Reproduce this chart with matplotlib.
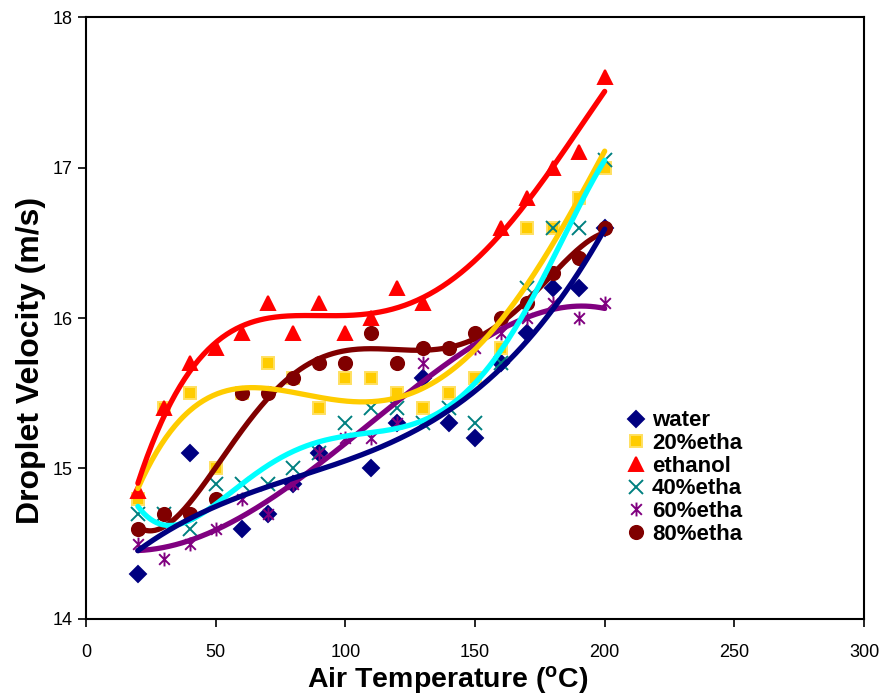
import matplotlib.pyplot as plt
import numpy as np
from matplotlib.path import Path

plt.rcParams['font.family'] = ['Liberation Sans', 'DejaVu Sans']
plt.rcParams['mathtext.fontset'] = 'custom'
plt.rcParams['mathtext.rm'] = 'Liberation Sans'
plt.rcParams['mathtext.bf'] = 'Liberation Sans:bold'

nan = np.nan

# ============================
# Data
# ============================
temp = [20, 30, 40, 50, 60, 70, 80, 90, 100, 110,
        120, 130, 140, 150, 160, 170, 180, 190, 200]

water = [14.3, nan, 15.1, nan, 14.6, 14.7, 14.9, 15.1, nan, 15.0,
         15.3, 15.6, 15.3, 15.2, 15.7, 15.9, 16.2, 16.2, 16.6]
etha20 = [14.8, 15.4, 15.5, 15.0, 15.5, 15.7, 15.6, 15.4, 15.6, 15.6,
          15.5, 15.4, 15.5, 15.6, 15.8, 16.6, 16.6, 16.8, 17.0]
ethanol = [14.85, 15.4, 15.7, 15.8, 15.9, 16.1, 15.9, 16.1, 15.9, 16.0,
           16.2, 16.1, nan, nan, 16.6, 16.8, 17.0, 17.1, 17.6]
etha40 = [14.7, 14.7, 14.6, 14.9, 14.9, 14.9, 15.0, 15.1, 15.3, 15.4,
          15.4, 15.3, 15.4, 15.3, 15.7, 16.2, 16.6, 16.6, 17.05]
etha60 = [14.5, 14.4, 14.5, 14.6, 14.8, 14.7, 14.9, 15.1, 15.2, 15.2,
          15.3, 15.7, 15.8, 15.8, 15.9, 16.0, 16.1, 16.0, 16.1]
etha80 = [14.6, 14.7, 14.7, 14.8, 15.5, 15.5, 15.6, 15.7, 15.7, 15.9,
          15.7, 15.8, 15.8, 15.9, 16.0, 16.1, 16.3, 16.4, 16.6]

labels = ['water', '20%etha', 'ethanol', '40%etha', '60%etha', '80%etha']

# asterisk marker: X plus a vertical bar
star = Path([(-1, -1), (1, 1), (-1, 1), (1, -1), (0, -1.3), (0, 1.3)],
            [Path.MOVETO, Path.LINETO, Path.MOVETO, Path.LINETO,
             Path.MOVETO, Path.LINETO])

series = [
    # values, marker, face, edge, size, trend colour, fit order, line z
    (water, 'D', '#000080', '#000080', 8.5, '#000080', 3, 3.6),
    (etha20, 's', '#FFCC00', '#FFE060', 9, '#FFCC00', 4, 3.2),
    (ethanol, '^', '#FF0000', '#FF0000', 10.5, '#FF0000', 4, 3.3),
    (etha40, 'x', '#008080', '#008080', 10, '#00FFFF', 5, 3.4),
    (etha60, star, '#800080', '#800080', 10, '#800080', 5, 3.1),
    (etha80, 'o', '#800000', '#800000', 9.5, '#800000', 5, 3.0),
]

# ============================
# Plot
# ============================
fig = plt.figure(figsize=(8.84, 6.98), dpi=100)
ax = fig.add_axes([0.0973, 0.1132, 0.8801, 0.8624])

x = np.array(temp, dtype=float)
xs = np.linspace(20, 200, 300)
for lab, (vals, mk, fc, ec, ms, lc, order, z) in zip(labels, series):
    y = np.array(vals, dtype=float)
    ax.plot(x, y, linestyle='none', marker=mk, markersize=ms,
            markerfacecolor=fc, markeredgecolor=ec, markeredgewidth=1.4,
            label=lab, zorder=2)
    ok = ~np.isnan(y)
    coef = np.polyfit(x[ok], y[ok], order)
    ax.plot(xs, np.polyval(coef, xs), color=lc, linewidth=3.8,
            solid_capstyle='round', zorder=z)

ax.set_xlim(0, 300)
ax.set_ylim(14, 18)
ax.set_xticks(range(0, 301, 50))
ax.set_yticks(range(14, 19))
ax.tick_params(direction='out', length=6, width=1.2, labelsize=13)
ax.tick_params(axis='x', pad=12)
for s in ax.spines.values():
    s.set_linewidth(1.5)
    s.set_color('black')

ax.set_xlabel(r'Air Temperature ($\mathbf{^{o}}$C)', fontsize=20.5,
              fontweight='bold')
ax.xaxis.set_label_coords(0.465, -0.074)
ax.set_ylabel('Droplet Velocity (m/s)', fontsize=23, fontweight='bold')
ax.yaxis.set_label_coords(-0.052, 0.43)

ax.legend(loc='upper left', bbox_to_anchor=(0.681, 0.365), frameon=False,
          prop={'weight': 'bold', 'size': 16}, handlelength=0.8,
          handletextpad=0.32, labelspacing=0.075, borderpad=0)

plt.savefig('out.png', dpi=100)
